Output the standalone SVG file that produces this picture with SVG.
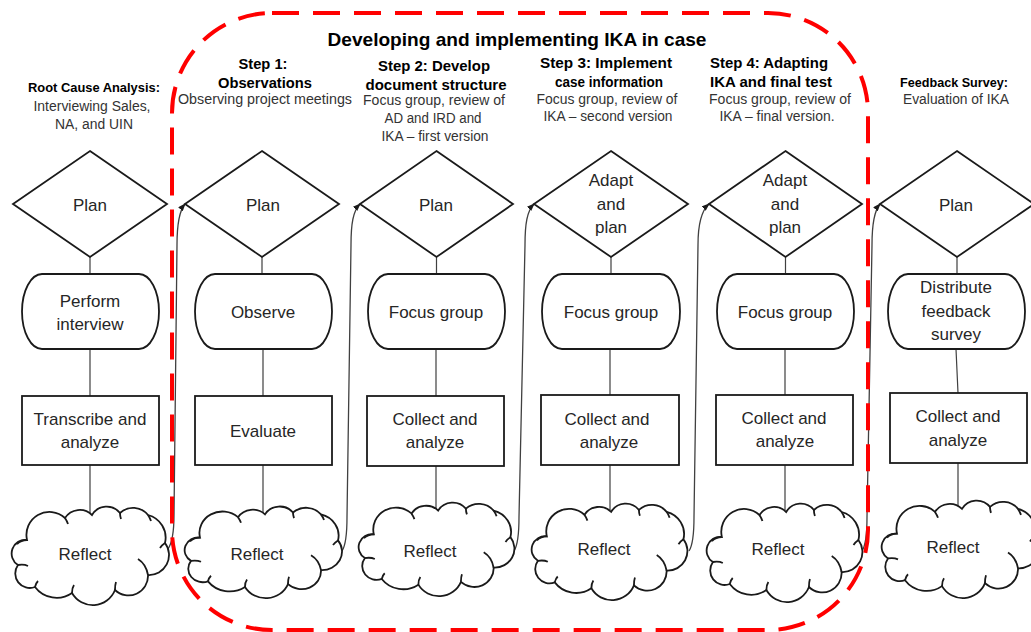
<svg xmlns="http://www.w3.org/2000/svg" xmlns:xlink="http://www.w3.org/1999/xlink" width="1031" height="632" viewBox="0 0 1031 632">
<style>
text{font-family:"Liberation Sans",Arial,sans-serif;}
.hd{font-weight:bold;font-size:15px;fill:#000;text-anchor:middle;}
.hs{font-weight:bold;font-size:13px;fill:#000;text-anchor:middle;}
.sub{font-size:14px;fill:#333;text-anchor:middle;}
.lbl{font-size:17px;fill:#262626;text-anchor:middle;}
.shape{fill:#fff;stroke:#1a1a1a;stroke-width:1.8;}
.cl{fill:#fff;stroke:#1a1a1a;stroke-width:1.8;vector-effect:non-scaling-stroke;}
.hook{fill:none;stroke:#1a1a1a;stroke-width:1.8;vector-effect:non-scaling-stroke;}
.link{fill:none;stroke:#404040;stroke-width:1.2;}
.conn{fill:none;stroke:#404040;stroke-width:1.3;marker-end:url(#arr);}
</style>
<defs>
<marker id="arr" markerWidth="8" markerHeight="6" refX="7" refY="3" orient="auto" markerUnits="userSpaceOnUse"><path d="M0,0 L8,3 L0,6 Z" fill="#1a1a1a"/></marker>
<g id="cloud">
<path class="cl" d="M17,34 A23,23 0 0 1 55,12 A17.5,17.5 0 0 1 82,9 A17,17 0 0 1 110,7 A19.3,19.3 0 0 1 138,9 A23.4,23.4 0 0 1 155,37 A20,20 0 0 1 138,69 A19.5,19.5 0 0 1 105,84 A23.9,23.9 0 0 1 62,87 A27,27 0 0 1 25,81 A14.5,14.5 0 0 1 8,59 A13.6,13.6 0 0 1 17,34 Z"/>
<path class="hook" d="M17,34 Q11,34 7,38 M8,59 Q14,58 18,60 M25,81 Q26,77 28,75 M62,87 Q62,82 64,79 M105,84 Q105,79 106,76 M128,53 Q136,58 138,69 M155,37 Q152,39 150,42 M138,9 Q140,12 141,15 M110,7 Q110,10 111,13 M55,12 Q57,15 58,18"/>
</g>
</defs>
<rect width="1031" height="632" fill="#fff"/>

<g id="headers">
<text x="517" y="46" font-weight="bold" font-size="19" fill="#000" text-anchor="middle" textLength="379" lengthAdjust="spacingAndGlyphs">Developing and implementing IKA in case</text>
<text class="hs" x="94" y="92" textLength="132" lengthAdjust="spacingAndGlyphs">Root Cause Analysis:</text>
<text class="sub" x="92" y="111" textLength="117" lengthAdjust="spacingAndGlyphs">Interviewing Sales,</text>
<text class="sub" x="94" y="129" textLength="78" lengthAdjust="spacingAndGlyphs">NA, and UIN</text>
<text class="hd" x="263" y="69" textLength="49" lengthAdjust="spacingAndGlyphs">Step 1:</text>
<text class="hd" x="265" y="88" textLength="94" lengthAdjust="spacingAndGlyphs">Observations</text>
<text class="sub" x="265" y="104" textLength="174" lengthAdjust="spacingAndGlyphs">Observing project meetings</text>
<text class="hd" x="434" y="71" textLength="112" lengthAdjust="spacingAndGlyphs">Step 2: Develop</text>
<text class="hd" x="436" y="90" textLength="141" lengthAdjust="spacingAndGlyphs">document structure</text>
<text class="sub" x="434" y="105" textLength="142" lengthAdjust="spacingAndGlyphs">Focus group, review of</text>
<text class="sub" x="433" y="123" textLength="97" lengthAdjust="spacingAndGlyphs">AD and IRD and</text>
<text class="sub" x="435" y="141" textLength="107" lengthAdjust="spacingAndGlyphs">IKA – first version</text>
<text class="hd" x="606" y="68" textLength="132" lengthAdjust="spacingAndGlyphs">Step 3: Implement</text>
<text class="hd" x="609" y="87" textLength="108" lengthAdjust="spacingAndGlyphs">case information</text>
<text class="sub" x="607" y="104" textLength="141" lengthAdjust="spacingAndGlyphs">Focus group, review of</text>
<text class="sub" x="608" y="121" textLength="129" lengthAdjust="spacingAndGlyphs">IKA – second version</text>
<text class="hd" x="710" y="68" text-anchor="start" style="text-anchor:start" textLength="118" lengthAdjust="spacingAndGlyphs">Step 4: Adapting</text>
<text class="hd" x="710" y="87" style="text-anchor:start" textLength="122" lengthAdjust="spacingAndGlyphs">IKA and final test</text>
<text class="sub" x="780" y="104" textLength="142" lengthAdjust="spacingAndGlyphs">Focus group, review of</text>
<text class="sub" x="777" y="121" textLength="115" lengthAdjust="spacingAndGlyphs">IKA – final version.</text>
<text class="hs" x="954" y="87" textLength="108" lengthAdjust="spacingAndGlyphs">Feedback Survey:</text>
<text class="sub" x="956" y="104" textLength="106" lengthAdjust="spacingAndGlyphs">Evaluation of IKA</text>
</g>

<g id="links">
<path class="link" d="M90,257 V274 M90,349 V396 M90,465 V515"/>
<path class="link" d="M262,257 V274 M263,349 V396 M263,465 V514"/>
<path class="link" d="M436.5,257 V274 M436,349 V396 M436,466 V510"/>
<path class="link" d="M611,257 V274 M610,349 V395 M610,465 V510"/>
<path class="link" d="M785.5,257 V274 M785,349 V395 M785,465 V510"/>
<path class="link" d="M957,257 V274 M956,349 L958,393 M958,463 V508"/>
</g>

<g id="connectors">
<path class="conn" d="M168,549 C172,543 174,532 174,515 L177,245 C177,224 179,211 185,204"/>
<path class="conn" d="M342,551 C346,545 347,534 347,517 L351,245 C351,224 353,211 360,204"/>
<path class="conn" d="M514,551 C518,545 519,534 519,517 L525,245 C525,224 527,211 534,204"/>
<path class="conn" d="M689,551 C693,545 694,534 694,517 L698,245 C698,224 701,211 709,204"/>
<path class="conn" d="M862,551 C866,545 867,534 867,517 L872,245 C872,224 874,211 880,204"/>
</g>

<g id="col1">
<g id="c1-plan"><path class="shape" d="M90,151 L167,204 L90,257 L13,204 Z"/><text class="lbl" x="90" y="211">Plan</text></g>
<g id="c1-perform"><rect class="shape" x="22" y="274" width="137" height="75" rx="20" ry="37.5"/><text class="lbl" x="90" y="307">Perform</text><text class="lbl" x="90" y="330">interview</text></g>
<g id="c1-transcribe"><rect class="shape" x="22" y="396" width="137" height="69"/><text class="lbl" x="90" y="425">Transcribe and</text><text class="lbl" x="90" y="448">analyze</text></g>
<g id="c1-reflect"><use xlink:href="#cloud" href="#cloud" transform="translate(10,506)"/><text class="lbl" x="85" y="560">Reflect</text></g>
</g>

<g id="col2">
<g id="c2-plan"><path class="shape" d="M262,151 L339,204 L262,257 L185,204 Z"/><text class="lbl" x="263" y="211">Plan</text></g>
<g id="c2-observe"><rect class="shape" x="195" y="274" width="137" height="75" rx="20" ry="37.5"/><text class="lbl" x="263" y="318">Observe</text></g>
<g id="c2-evaluate"><rect class="shape" x="195" y="396" width="137" height="69"/><text class="lbl" x="263" y="437">Evaluate</text></g>
<g id="c2-reflect"><use xlink:href="#cloud" href="#cloud" transform="translate(183,506) scale(1,0.93)"/><text class="lbl" x="257" y="560">Reflect</text></g>
</g>

<g id="col3">
<g id="c3-plan"><path class="shape" d="M436.5,151 L513,204 L436.5,257 L360,204 Z"/><text class="lbl" x="436" y="211">Plan</text></g>
<g id="c3-focus"><rect class="shape" x="368" y="274" width="137" height="75" rx="20" ry="37.5"/><text class="lbl" x="436" y="318">Focus group</text></g>
<g id="c3-collect"><rect class="shape" x="367" y="396" width="137" height="70"/><text class="lbl" x="435" y="425">Collect and</text><text class="lbl" x="435" y="448">analyze</text></g>
<g id="c3-reflect"><use xlink:href="#cloud" href="#cloud" transform="translate(357,502) scale(0.99,0.95)"/><text class="lbl" x="430" y="557">Reflect</text></g>
</g>

<g id="col4">
<g id="c4-adapt"><path class="shape" d="M611,151 L688,204 L611,257 L534,204 Z"/><text class="lbl" x="611" y="186">Adapt</text><text class="lbl" x="611" y="210">and</text><text class="lbl" x="611" y="233">plan</text></g>
<g id="c4-focus"><rect class="shape" x="542" y="274" width="138" height="75" rx="20" ry="37.5"/><text class="lbl" x="611" y="318">Focus group</text></g>
<g id="c4-collect"><rect class="shape" x="541" y="395" width="138" height="70"/><text class="lbl" x="607" y="425">Collect and</text><text class="lbl" x="609" y="448">analyze</text></g>
<g id="c4-reflect"><use xlink:href="#cloud" href="#cloud" transform="translate(530,503) scale(0.99,0.98)"/><text class="lbl" x="604" y="555">Reflect</text></g>
</g>

<g id="col5">
<g id="c5-adapt"><path class="shape" d="M785.5,151 L862,204 L785.5,257 L709,204 Z"/><text class="lbl" x="785" y="186">Adapt</text><text class="lbl" x="785" y="210">and</text><text class="lbl" x="785" y="233">plan</text></g>
<g id="c5-focus"><rect class="shape" x="717" y="274" width="137" height="75" rx="20" ry="37.5"/><text class="lbl" x="785" y="318">Focus group</text></g>
<g id="c5-collect"><rect class="shape" x="716" y="395" width="137" height="70"/><text class="lbl" x="784" y="424">Collect and</text><text class="lbl" x="785" y="447">analyze</text></g>
<g id="c5-reflect"><use xlink:href="#cloud" href="#cloud" transform="translate(705,503) scale(0.99,1)"/><text class="lbl" x="778" y="555">Reflect</text></g>
</g>

<g id="col6">
<g id="c6-plan"><path class="shape" d="M957,151 L1034,204 L957,257 L880,204 Z"/><text class="lbl" x="956" y="211">Plan</text></g>
<g id="c6-distribute"><rect class="shape" x="888" y="274" width="137" height="75" rx="20" ry="37.5"/><text class="lbl" x="956" y="293">Distribute</text><text class="lbl" x="956" y="317">feedback</text><text class="lbl" x="956" y="340">survey</text></g>
<g id="c6-collect"><rect class="shape" x="890" y="393" width="137" height="70"/><text class="lbl" x="958" y="422">Collect and</text><text class="lbl" x="958" y="446">analyze</text></g>
<g id="c6-reflect"><use xlink:href="#cloud" href="#cloud" transform="translate(880,500) scale(1,0.99)"/><text class="lbl" x="953" y="553">Reflect</text></g>
</g>

<g id="ika-frame">
<rect x="172" y="13" width="696" height="617" rx="100" ry="100" fill="none" stroke="#ff0000" stroke-width="4" stroke-dasharray="27 14"/>
</g>
</svg>
